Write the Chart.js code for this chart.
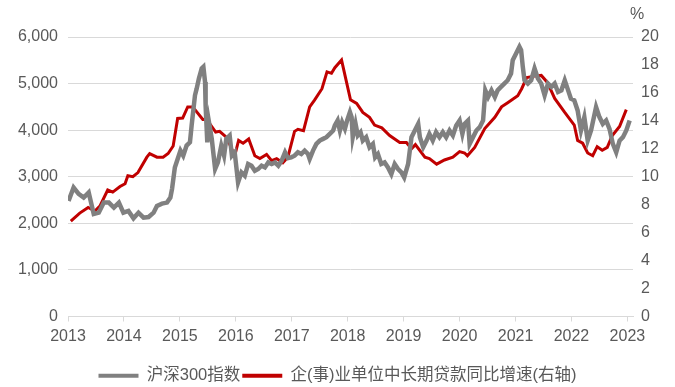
<!DOCTYPE html>
<html>
<head>
<meta charset="utf-8">
<script src="https://cdn.jsdelivr.net/npm/chart.js@4"></script>
<style>
  html, body { margin: 0; padding: 0; background: #ffffff; }
  #wrap { width: 675px; height: 387px; position: relative; }
</style>
</head>
<body>
<div id="wrap"><canvas id="c" width="675" height="387"></canvas></div>
<script>
// ---- Data ----
const xTickLabels = ['2013','2014','2015','2016','2017','2018','2019','2020','2021','2022','2023'];
const leftTickLabels = ['0','1,000','2,000','3,000','4,000','5,000','6,000'];
const rightTickLabels = ['0','2','4','6','8','10','12','14','16','18','20'];
const seriesNames = ['沪深300指数', '企(事)业单位中长期贷款同比增速(右轴)'];

const csiYears = [2013.01,2013.10,2013.19,2013.28,2013.37,2013.46,2013.55,2013.64,2013.73,2013.82,2013.91,2013.99,
  2014.08,2014.17,2014.26,2014.35,2014.44,2014.53,2014.59,2014.68,2014.77,2014.83,2014.86,2014.91,2014.95,
  2015.01,2015.06,2015.12,2015.18,2015.21,2015.27,2015.30,2015.34,2015.39,2015.42,2015.45,2015.46,2015.49,2015.52,2015.57,2015.63,2015.68,2015.74,2015.79,2015.83,2015.89,2015.93,2015.98,
  2016.04,2016.10,2016.16,2016.22,2016.28,2016.34,2016.40,2016.46,2016.52,2016.58,2016.64,2016.70,2016.76,2016.82,2016.88,2016.93,2016.99,
  2017.05,2017.11,2017.17,2017.23,2017.29,2017.32,2017.38,2017.44,2017.50,2017.56,2017.62,2017.68,2017.74,2017.77,2017.82,2017.86,2017.90,2017.95,2017.99,
  2018.04,2018.07,2018.09,2018.14,2018.18,2018.23,2018.27,2018.33,2018.39,2018.45,2018.49,2018.54,2018.60,2018.66,2018.72,2018.78,2018.84,2018.90,2018.96,
  2019.01,2019.08,2019.14,2019.20,2019.26,2019.29,2019.35,2019.41,2019.46,2019.52,2019.58,2019.64,2019.70,2019.76,2019.82,2019.88,2019.94,
  2020.00,2020.05,2020.09,2020.15,2020.18,2020.24,2020.30,2020.36,2020.42,2020.46,2020.51,2020.57,2020.63,2020.68,2020.74,2020.80,2020.86,2020.92,2020.95,
  2021.01,2021.07,2021.10,2021.13,2021.16,2021.22,2021.28,2021.34,2021.40,2021.46,2021.52,2021.58,2021.64,2021.70,2021.76,2021.82,2021.88,2021.93,2021.99,
  2022.05,2022.11,2022.17,2022.23,2022.29,2022.35,2022.44,2022.50,2022.56,2022.62,2022.68,2022.74,2022.80,2022.86,2022.92,2022.98,2023.04];
const csiValues = [2482,2769,2633,2553,2661,2201,2229,2445,2445,2337,2445,2229,
  2266,2108,2229,2121,2136,2229,2374,2423,2445,2553,2741,3200,3345,
  3561,3453,3669,3740,4100,4748,4892,5108,5324,5359,5035,4532,3740,4172,3813,3166,3308,3669,3453,3813,3885,3453,3524,
  2877,3092,3021,3274,3237,3129,3166,3237,3201,3308,3274,3308,3237,3345,3524,3400,3417,
  3453,3524,3489,3561,3489,3381,3561,3705,3777,3813,3849,3921,3993,4100,4208,3993,4172,4029,4208,
  4388,4280,3849,4136,3885,3957,3777,3849,3633,3705,3417,3489,3274,3308,3201,3058,3274,3166,3092,
  2985,3274,3849,3993,4136,3849,3633,3777,3921,3777,3957,3849,3957,3849,3993,3885,4100,
  4208,3921,4136,4208,3705,3849,3993,4064,4208,4856,4712,4856,4712,4856,4928,5000,5071,5216,5503,
  5647,5790,5720,5359,5071,5000,5071,5324,5108,5000,4748,5000,4928,5000,4820,4856,5071,4892,4676,
  4640,4424,3993,4280,3777,3993,4496,4280,4136,4208,4029,3705,3524,3777,3849,3993,4208];

const loanYears = [2013.05,2013.21,2013.36,2013.48,2013.57,2013.71,2013.80,2013.93,2014.02,2014.07,2014.16,2014.25,2014.41,2014.46,2014.59,2014.70,2014.79,2014.88,2014.96,
  2015.05,2015.14,2015.23,2015.41,2015.48,2015.64,2015.71,2015.84,2015.98,2016.05,2016.13,2016.23,2016.34,2016.43,2016.55,2016.64,2016.73,2016.84,2016.93,
  2017.05,2017.11,2017.21,2017.32,2017.41,2017.54,2017.63,2017.71,2017.77,2017.89,2018.05,2018.16,2018.27,2018.39,2018.48,2018.61,2018.75,2018.93,
  2019.05,2019.14,2019.21,2019.38,2019.46,2019.59,2019.73,2019.88,2020.00,2020.09,2020.14,2020.27,2020.45,2020.63,2020.75,2020.86,
  2021.04,2021.11,2021.20,2021.34,2021.46,2021.57,2021.70,2021.88,2022.05,2022.11,2022.20,2022.29,2022.38,2022.46,2022.55,2022.64,2022.73,2022.86,2022.98];
const loanValues = [6.83,7.4,7.8,7.55,7.9,9.05,8.9,9.3,9.5,10.07,10.0,10.3,11.4,11.66,11.4,11.4,11.66,12.2,14.17,
  14.2,15.0,15.0,14.1,14.1,13.2,13.25,12.8,11.5,12.6,12.4,12.7,11.5,11.3,11.6,11.15,11.3,11.0,11.4,
  13.25,13.4,13.3,15.0,15.5,16.3,17.5,17.4,17.8,18.35,15.5,15.25,14.6,14.25,13.7,13.5,12.95,12.45,
  12.45,12.0,12.3,11.4,11.3,10.9,11.2,11.4,11.8,11.7,11.5,12.1,13.45,14.25,15.0,15.3,
  15.8,16.3,17.1,17.2,17.25,16.75,15.6,14.6,13.7,12.6,12.4,11.7,11.5,12.15,11.9,12.1,12.95,13.6,14.8];

// ---- Chart ----
const FONT = '"Liberation Sans", Arial, "Noto Sans CJK SC", sans-serif';
const TXT = '#595959';
const GRAY = '#808080';
const RED = '#C00000';

const pctPlugin = {
  id: 'pctLabel',
  afterDraw(chart) {
    const s = chart.scales.y2;
    const ctx = chart.ctx;
    ctx.save();
    ctx.font = '16px ' + FONT;
    ctx.fillStyle = TXT;
    ctx.textAlign = 'left';
    ctx.textBaseline = 'middle';
    ctx.fillText('%', s.left - 3, s.top - 22);
    ctx.restore();
  }
};

new Chart(document.getElementById('c'), {
  type: 'line',
  data: {
    datasets: [
      {
        label: seriesNames[0],
        data: csiYears.map((x, i) => ({ x: x, y: csiValues[i] })),
        borderColor: GRAY, backgroundColor: GRAY,
        borderWidth: 4.5, pointRadius: 0, tension: 0, yAxisID: 'y'
      },
      {
        label: seriesNames[1],
        data: loanYears.map((x, i) => ({ x: x, y: loanValues[i] })),
        borderColor: RED, backgroundColor: RED,
        borderWidth: 3, pointRadius: 0, tension: 0, yAxisID: 'y2'
      }
    ]
  },
  plugins: [pctPlugin],
  options: {
    responsive: false,
    animation: false,
    events: [],
    layout: { padding: { top: 37, left: 0, right: 0, bottom: -7 } },
    plugins: {
      tooltip: { enabled: false },
      legend: {
        position: 'bottom',
        labels: {
          font: { family: FONT, size: 16.5 },
          color: TXT,
          boxWidth: 40, boxHeight: 4, padding: 2,
          generateLabels(chart) {
            const items = Chart.defaults.plugins.legend.labels.generateLabels(chart);
            items.forEach(it => { it.lineWidth = 0; it.strokeStyle = it.fillStyle; });
            return items;
          }
        }
      }
    },
    scales: {
      x: {
        type: 'linear', min: 2013, max: 2023.1,
        ticks: {
          stepSize: 1, includeBounds: false, autoSkip: false, maxRotation: 0,
          font: { family: FONT, size: 16 }, color: TXT, padding: 5,
          callback: (v) => xTickLabels[Math.round(v) - 2013]
        },
        grid: { drawOnChartArea: false, drawTicks: true, tickLength: 5, color: '#d9d9d9' },
        border: { display: true, color: '#d9d9d9', width: 1 },
        afterFit(s) { s.height = 49; }
      },
      y: {
        position: 'left', min: 0, max: 6000,
        ticks: {
          stepSize: 1000, font: { family: FONT, size: 16 }, color: TXT, padding: 10,
          callback: (v) => leftTickLabels[Math.round(v / 1000)]
        },
        grid: { color: '#d9d9d9', drawTicks: false },
        border: { display: false },
        afterFit(s) { s.width = 68; }
      },
      y2: {
        position: 'right', min: 0, max: 20,
        ticks: {
          stepSize: 2, font: { family: FONT, size: 16 }, color: TXT, padding: 8,
          callback: (v) => rightTickLabels[Math.round(v / 2)]
        },
        grid: { drawOnChartArea: false, drawTicks: false },
        border: { display: false },
        afterFit(s) { s.width = 42; }
      }
    }
  }
});
</script>
</body>
</html>
